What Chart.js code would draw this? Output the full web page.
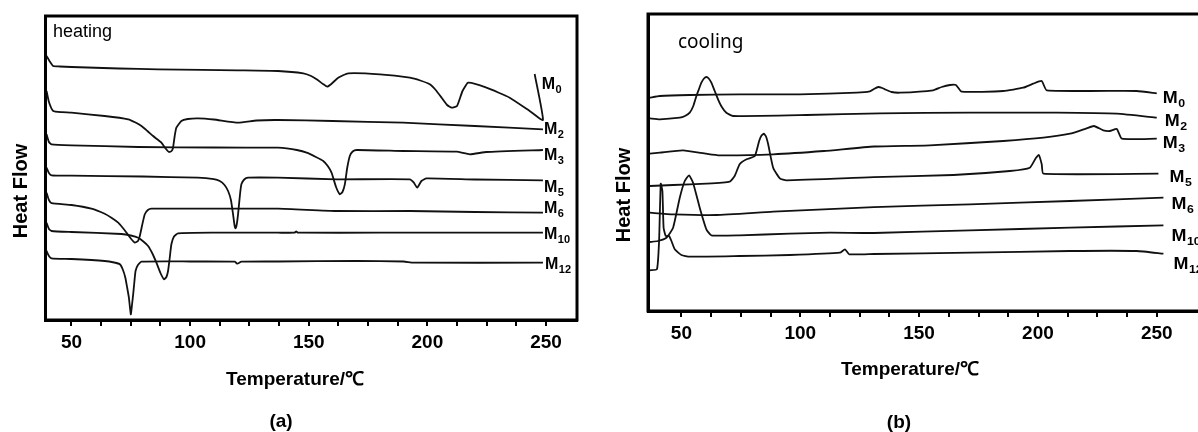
<!DOCTYPE html>
<html>
<head>
<meta charset="utf-8">
<script src="https://cdn.jsdelivr.net/npm/chart.js@4.4.1/dist/chart.umd.min.js"></script>
<style>
  html,body{margin:0;padding:0;background:#fff;overflow:hidden;}
  body{width:1198px;height:432px;position:relative;}
  .panel{position:absolute;top:0;height:432px;}
  #wrapA{left:0;width:600px;}
  #wrapB{left:600px;width:620px;}
</style>
</head>
<body>
<div class="panel" id="wrapA"><canvas id="chartA" width="600" height="432"></canvas></div>
<div class="panel" id="wrapB"><canvas id="chartB" width="620" height="432"></canvas></div>
<script>
// DSC traces, [temperature °C, heat flow (a.u., offset stacked)]
const SERIES = ["M0", "M2", "M3", "M5", "M6", "M10", "M12"];

const X_TICKS = [50, 62.5, 75, 87.5, 100, 112.5, 125, 137.5, 150, 162.5, 175, 187.5, 200, 212.5, 225, 237.5, 250];
const X_TICK_LABELS = [50, 100, 150, 200, 250];

// (a) heating
const heatM0 = [[39.5,264],[41,258],[42.3,254],[45,253.5],[50,253],[70,251.5],[86.5,250.7],[105,250.2],[120.2,249.7],[137,249],[147.7,246.7],[151,244],[153.3,240.7],[156,236],[157.8,233.3],[159.5,236],[162.4,242.3],[166.6,246.7],[180,245.7],[192.6,242.3],[197,239.5],[201,235.7],[203.5,230],[206,222.3],[208.3,215],[210.2,212.3],[212.5,214],[214.8,229],[217.2,237.3],[224.9,232.3],[234.7,222.3],[243.1,209],[248.7,200],[245.2,246]];
const heatM2 = [[39.5,229],[40.5,218],[42.3,209],[46,207.8],[50,207.3],[64,204],[73.9,200.7],[77,197.5],[79.5,194],[82,189],[84.4,184],[86,181],[87.9,177.3],[89.5,172],[91.1,168],[92.2,169],[92.8,172.3],[93.5,184],[94.2,192.3],[96.3,199],[99,201],[103.3,201.7],[110,200.5],[120.2,197.3],[128,199.5],[137,200],[160,199],[189.8,197.3],[220,194],[248.7,190.7]];
const heatM3 = [[39.5,185.7],[40.5,178],[41.6,175.7],[50,174.7],[78.1,173],[110,172.5],[137,172.3],[140.7,171.7],[145,170],[149.1,167.3],[153,163],[156.1,159],[158,154],[159.6,147.3],[161.5,133],[163.1,125.7],[164.2,128],[165.2,135.7],[166.2,152],[167.3,164],[168.5,168.5],[170.2,170],[189.8,169],[212.3,168.3],[217.9,165.7],[224.9,168],[248.7,170]];
const heatM5 = [[39.5,152.3],[40.5,147],[41.6,144.7],[50,144.3],[80,143.5],[103.3,142.3],[110,140.8],[112.5,139],[114.5,135],[116,129],[117.2,120],[118.1,105.7],[118.7,95],[119.1,91.7],[119.6,95],[120.2,105.7],[121,125],[121.6,135.7],[122.8,140.5],[124.4,142.3],[137,142.3],[161.7,140.7],[192.6,140.7],[194.3,137.3],[195.7,132.3],[197.5,139],[199.6,141.7],[220,140.5],[248.7,139.7]];
const heatM6 = [[39.5,127.3],[40.5,120],[41.6,116.8],[50,115],[58.4,111.3],[64,106.2],[67,102],[69.7,97.3],[71.5,92.5],[73.2,87.3],[75,81.5],[76.7,77.3],[78,79],[78.8,84],[79.8,95],[80.9,105.7],[82.2,110],[83.7,111.3],[110,111.3],[137,111.3],[161.7,109],[192.6,109],[220,108],[248.7,107.3]];
const heatM10 = [[39.5,97.3],[40.5,91],[41.6,89],[50,88],[71.1,86],[75,84.5],[78.1,82.3],[80.3,78.5],[82.3,74],[84.2,66],[85.8,57.3],[87.5,47],[89,40.7],[90,43],[90.7,49],[91.4,62],[92.1,75.7],[93.2,83.5],[94.9,86.7],[110,87.3],[137,87.3],[144,87.3],[144.7,88.6],[145.4,87.3],[180,87.3],[220,87.3],[248.7,87.3]];
const heatM12 = [[39.5,69],[40.5,64],[41.6,61.7],[50,61],[64,59],[68,57.5],[70.4,55.7],[71.7,50],[72.7,42.3],[73.5,32],[74.2,22.3],[75,5.7],[75.5,15],[76,25.7],[76.5,38],[77,49],[78,55],[79.5,58.3],[100,58.5],[118.8,58.3],[119.9,56.3],[121.6,58.3],[137,58.5],[170,59],[190,58.5],[194,57.3],[248.7,57.3]];

// (b) cooling
const coolM0 = [[36.7,213.3],[40.9,215],[53.5,216],[74.5,216.7],[99.8,216.7],[123.7,218.3],[129.3,219.6],[131,222],[132.8,224],[134.5,223],[135.6,221.7],[138.4,219],[141.9,218.3],[155.9,220.7],[159.5,224],[163,226],[165.5,226],[167.9,219.3],[185.4,220],[193.8,223.3],[198,227.3],[201.6,230],[203.7,220.7],[241.6,220],[250,217.7]];
const coolM2 = [[36.7,192.7],[40.9,191.7],[49.3,193.3],[51.5,195],[53.5,198.3],[55,205],[56.3,215],[57.4,222],[58.4,228.3],[59.5,232.5],[60.5,234],[61.5,232.5],[62.6,228.3],[64,220],[65.4,211.7],[67,204],[68.9,198.3],[71.7,195],[102.6,196],[133.5,197.7],[171.4,198.3],[207.9,198.3],[233.2,197.3],[250,193.3]];
const coolM3 = [[36.7,157.3],[40.9,158.3],[50.7,160.7],[60.5,157.3],[66.1,155.7],[88.6,156.7],[110,160],[131,164.5],[154.5,165.7],[185.4,170],[202.3,173.3],[213.5,177.3],[220.5,182.7],[223.6,185],[227.5,180.7],[230.3,180],[233.2,182],[235.3,172.3],[250,172.3]];
const coolM5 = [[36.7,125],[46.5,126],[60.5,127.3],[70.3,129.3],[72.4,135],[74.5,146.7],[77.4,151.7],[80.9,155],[82.7,170],[83.7,175.5],[84.7,177.3],[85.6,174.5],[86.5,166.7],[88.6,143.3],[91.4,132.7],[94.2,130.7],[131,133.8],[164.4,136],[188.2,140],[196.6,143.3],[199.2,153.3],[200.4,156],[201.6,146.7],[202.3,137.3],[250.7,137.3]];
const coolM6 = [[36.7,98.3],[46.5,96.7],[64.7,96],[88.6,99.3],[131,103.8],[171.4,106.7],[213.5,110],[252.8,113.3]];
const coolM10 = [[36.7,69],[40.1,70],[43.7,73.3],[46.5,83.3],[49.3,113.3],[51.4,130],[53.2,135.7],[54.9,128.3],[57.7,103.3],[60.5,81.7],[62.6,75.7],[74.5,75.7],[95.6,77.3],[112.5,78.3],[131,78],[171.4,80.7],[213.5,83.3],[252.8,85.7]];
const coolM12 = [[36.7,40.7],[39.7,41.7],[40.6,70],[41.3,127.3],[42,120],[42.5,83.3],[43.4,75],[44.8,75],[45.8,70],[47.2,61.7],[50,56],[53.5,54.3],[74.5,55],[95.6,56],[116.7,58.3],[118.8,61.7],[120.6,56.7],[131,57],[171.4,58.3],[213.5,60],[241.6,60],[252.8,57.3]];

const HEATING = [heatM0, heatM2, heatM3, heatM5, heatM6, heatM10, heatM12];
const COOLING = [coolM0, coolM2, coolM3, coolM5, coolM6, coolM10, coolM12];

const SANS = '"Liberation Sans", Arial, sans-serif';

// frame, in-plot tag, axis titles, panel letter, curve labels
const panelDeco = {
  id: 'panelDeco',
  afterDraw(chart, args, o){
    const {ctx, chartArea:a, scales:{x, y}} = chart;
    ctx.save();
    ctx.strokeStyle = '#000';
    ctx.lineWidth = 3;
    ctx.strokeRect(a.left, a.top, a.right - a.left, a.bottom - a.top);

    ctx.fillStyle = '#000';
    ctx.textBaseline = 'alphabetic';
    ctx.textAlign = 'left';
    ctx.font = o.tagFont;
    ctx.fillText(o.tag, o.tagX, o.tagY);

    ctx.font = 'bold 19px ' + SANS;
    ctx.textAlign = 'center';
    ctx.textBaseline = 'middle';
    ctx.fillText('Temperature/℃', o.xTitleX, o.xTitleY);
    ctx.fillText(o.letter, o.letterX, o.letterY);

    ctx.save();
    ctx.translate(o.yTitleX, o.yTitleY);
    ctx.rotate(-Math.PI/2);
    ctx.font = 'bold 20px ' + SANS;
    ctx.fillText('Heat Flow', 0, 0);
    ctx.restore();

    // M labels at the end of each trace
    chart.data.datasets.forEach((ds, i) => {
      const last = ds.data[ds.data.length - 1];
      const px = x.getPixelForValue(last[0]) + o.labelDx[i];
      const py = y.getPixelForValue(last[1]) + o.labelDy[i];
      const name = SERIES[i];
      ctx.save();
      ctx.translate(px, py + o.labelSize * 0.36);
      ctx.scale(o.labelScaleX, 1);
      ctx.textAlign = 'left';
      ctx.textBaseline = 'alphabetic';
      ctx.font = 'bold ' + o.labelSize + 'px ' + SANS;
      ctx.fillText('M', 0, 0);
      const w = ctx.measureText('M').width;
      ctx.font = 'bold ' + Math.round(o.labelSize * 0.68) + 'px ' + SANS;
      ctx.fillText(name.slice(1), w + 0.5, 4);
      ctx.restore();
    });
    ctx.restore();
  }
};

function makeChart(id, traces, xmin, xmax, ymax, yWidth, xHeight, padTop, padRight, deco){
  const ctx = document.getElementById(id).getContext('2d');
  return new Chart(ctx, {
    type: 'line',
    data: {
      datasets: traces.map((t, i) => ({
        label: SERIES[i], data: t,
        borderColor: '#111', borderWidth: 1.8,
        pointRadius: 0, tension: 0.15, fill: false
      }))
    },
    options: {
      responsive: false, animation: false,
      layout: { padding: { top: padTop, right: padRight, left: 0, bottom: 0 } },
      plugins: { legend: { display: false }, tooltip: { enabled: false }, panelDeco: deco },
      scales: {
        x: {
          type: 'linear', min: xmin, max: xmax,
          afterBuildTicks: s => { s.ticks = X_TICKS.map(v => ({ value: v })); },
          afterFit: s => { s.height = xHeight; },
          grid: { drawOnChartArea: false, drawTicks: true, tickLength: 6, color: '#000', lineWidth: 2 },
          border: { display: true, color: '#000', width: 3 },
          ticks: {
            autoSkip: false, maxRotation: 0, padding: 5, color: '#000',
            font: { family: SANS, size: 19, weight: 'bold' },
            callback: v => X_TICK_LABELS.includes(v) ? String(v) : ''
          }
        },
        y: {
          type: 'linear', min: 0, max: ymax,
          afterFit: s => { s.width = yWidth; },
          grid: { display: false },
          border: { display: true, color: '#000', width: 3 },
          ticks: { display: false }
        }
      }
    },
    plugins: [panelDeco]
  });
}

makeChart('chartA', HEATING, 39.05, 263.05, 304, 45.5, 112, 16, 23, {
  tag: 'heating', tagFont: '18px ' + SANS, tagX: 53, tagY: 37,
  xTitleX: 295, xTitleY: 380, letter: '(a)', letterX: 281, letterY: 422,
  yTitleX: 21, yTitleY: 191,
  labelSize: 16, labelScaleX: 1,
  labelDx: [7, 1, 1, 1, 1, 1, 2],
  labelDy: [9, -1, 4, 5.5, -5.5, 1, 1]
});

makeChart('chartB', COOLING, 35.94, 272.4, 297, 48, 121, 14, 10, {
  tag: 'cooling', tagFont: '19px "Noto Sans", sans-serif', tagX: 78, tagY: 48,
  xTitleX: 310, xTitleY: 370, letter: '(b)', letterX: 299, letterY: 423,
  yTitleX: 24, yTitleY: 195,
  labelSize: 16, labelScaleX: 1.12,
  labelDx: [6, 8, 6, 11, 8, 8, 10],
  labelDy: [4, 3, 4, 3, 6, 10, 10]
});
</script>
</body>
</html>
